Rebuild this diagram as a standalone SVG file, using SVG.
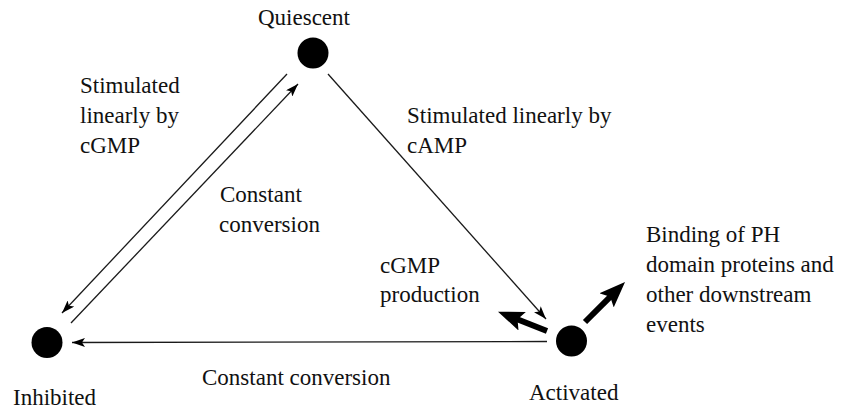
<svg xmlns="http://www.w3.org/2000/svg" width="842" height="409" viewBox="0 0 842 409">
<defs>
<style>
text{font-family:"Liberation Serif","Times New Roman",serif;font-size:23px;fill:#111}
.ln{stroke:#1a1a1a;stroke-width:1.3;fill:none}
.thk{stroke:#000;stroke-width:6;fill:none}
.node{fill:#000}
</style>
<marker id="ah" markerUnits="userSpaceOnUse" viewBox="0 0 13 9" markerWidth="13" markerHeight="9" refX="13" refY="4.5" orient="auto">
<path d="M0,0 L13,4.5 L0,9 L3,4.5 z" fill="#000"/>
</marker>
<marker id="ahb" markerUnits="userSpaceOnUse" viewBox="0 0 26 20" markerWidth="26" markerHeight="20" refX="6" refY="10" orient="auto">
<path d="M0,0 L26,10 L0,20 L5,10 z" fill="#000"/>
</marker>
</defs>
<rect width="842" height="409" fill="#fff"/>
<g id="connectors">
<line class="ln" x1="287" y1="74" x2="62" y2="313" marker-end="url(#ah)"/>
<line class="ln" x1="71" y1="323" x2="298" y2="84" marker-end="url(#ah)"/>
<line class="ln" x1="328" y1="74" x2="546" y2="319" marker-end="url(#ah)"/>
<line class="ln" x1="547" y1="341.5" x2="72" y2="342.5" marker-end="url(#ah)"/>
<line class="thk" x1="547" y1="331" x2="516.6" y2="319" marker-end="url(#ahb)"/>
<line class="thk" x1="585" y1="322" x2="610.9" y2="296.1" marker-end="url(#ahb)"/>
</g>
<g id="quiescent">
<circle class="node" cx="313" cy="53" r="15.5"/>
<text x="258" y="25">Quiescent</text>
</g>
<g id="inhibited">
<circle class="node" cx="47" cy="342.5" r="15.5"/>
<text x="13" y="405">Inhibited</text>
</g>
<g id="activated">
<circle class="node" cx="571.5" cy="341" r="15.5"/>
<text x="529" y="400">Activated</text>
</g>
<g id="labels">
<text x="80" y="93">Stimulated</text>
<text x="80" y="123">linearly by</text>
<text x="80" y="153">cGMP</text>
<text x="407" y="123">Stimulated linearly by</text>
<text x="407" y="153">cAMP</text>
<text x="220" y="202">Constant</text>
<text x="219" y="232">conversion</text>
<text x="380" y="273">cGMP</text>
<text x="380" y="302">production</text>
<text x="202" y="385">Constant conversion</text>
<text x="646" y="242">Binding of PH</text>
<text x="646" y="272">domain proteins and</text>
<text x="646" y="302">other downstream</text>
<text x="646" y="332">events</text>
</g>
</svg>
